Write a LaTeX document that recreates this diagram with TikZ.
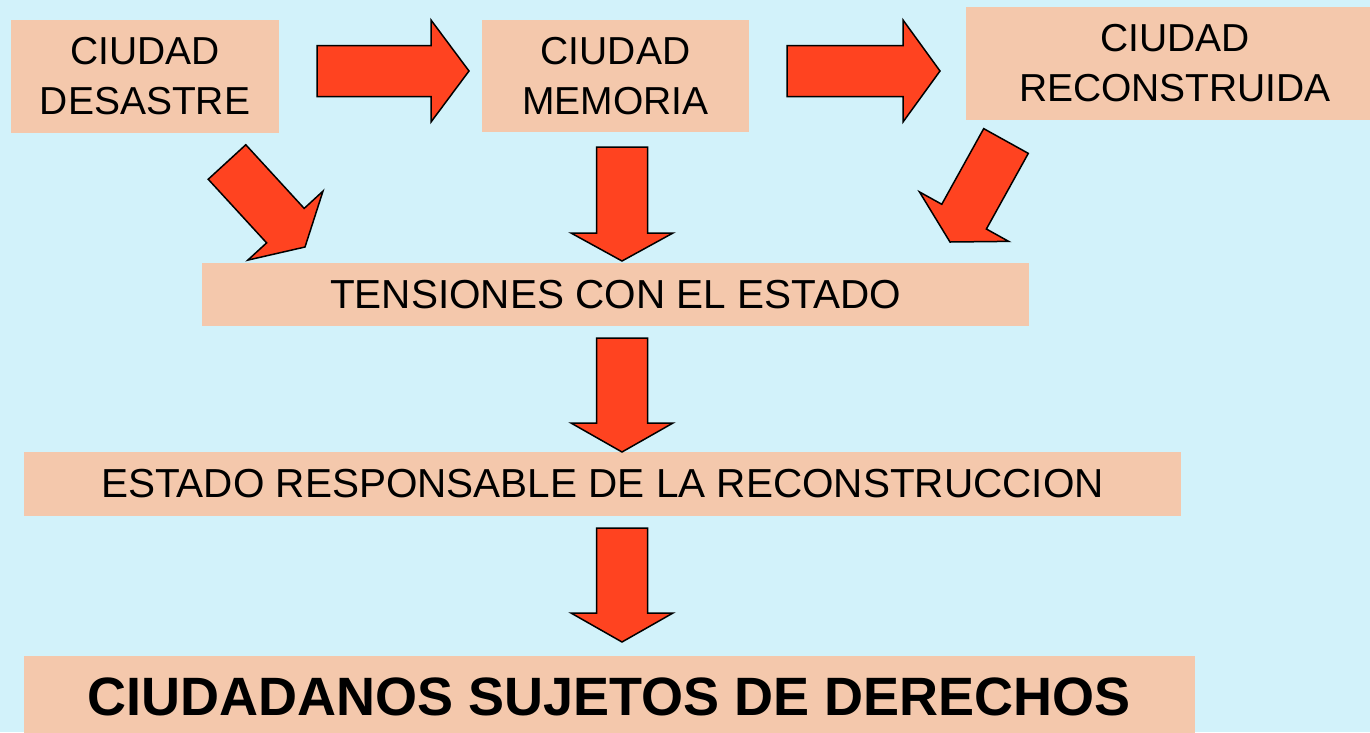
\documentclass[tikz,border=0pt]{standalone}
\usepackage{fontspec}
\setmainfont{Liberation Sans}
\usetikzlibrary{calc}
\definecolor{fondo}{RGB}{210,242,250}
\definecolor{salmon}{RGB}{244,200,172}
\definecolor{rojo}{RGB}{255,67,32}
\tikzset{
  caja/.style={fill=salmon, inner sep=0pt, align=center, font=\fontsize{39}{50}\selectfont},
  flechabloque/.style={fill=rojo, draw=black, line width=1.5pt},
}
\newcommand{\flecha}[3]{%
  \coordinate (base) at ($(#2)!#3pt!(#1)$);
  \draw[flechabloque] ($(#1)!25.5pt!90:(#2)$) -- ($(base)!25.5pt!90:(#2)$)
    -- ($(base)!51pt!90:(#2)$) -- (#2) -- ($(base)!51pt!-90:(#2)$)
    -- ($(base)!25.5pt!-90:(#2)$) -- ($(#1)!25.5pt!-90:(#2)$) -- cycle;
}

\begin{document}
\begin{tikzpicture}[x=1pt,y=-1pt]
\fill[fondo] (0,0) rectangle (1370,732);
\clip (0,0) rectangle (1370,732);

\node[caja, minimum width=268pt, minimum height=113pt] (desastre) at (145,76.5) {CIUDAD\\DESASTRE};
\node[caja, minimum width=267pt, minimum height=112pt] (memoria) at (615.5,76) {CIUDAD\\MEMORIA};
\node[caja, minimum width=418pt, minimum height=113pt] (reconstruida) at (1175,63.5) {CIUDAD\\RECONSTRUIDA};
\node[caja, minimum width=827pt, minimum height=63pt, font=\fontsize{40.5}{50}\selectfont] (tensiones) at (615.5,294.5) {TENSIONES CON EL ESTADO};
\node[caja, minimum width=1157pt, minimum height=64pt, font=\fontsize{40.5}{50}\selectfont] (estado) at (602.5,484) {ESTADO RESPONSABLE DE LA RECONSTRUCCION};
\node[caja, minimum width=1171pt, minimum height=82pt, font=\fontsize{54}{60}\selectfont\bfseries] (ciudadanos) at (609.5,697) {CIUDADANOS SUJETOS DE DERECHOS};

\coordinate (a1i) at (317,71);
\coordinate (a1f) at (469,71);
\coordinate (a2i) at (787,71);
\coordinate (a2f) at (940,71);
\coordinate (b1i) at (622,147);
\coordinate (b1f) at (622,261);
\coordinate (b2i) at (622,338);
\coordinate (b2f) at (622,452);
\coordinate (b3i) at (622,528);
\coordinate (b3f) at (622,642);
\coordinate (c1i) at (227,162);
\coordinate (c1f) at (305,247);
\coordinate (c2i) at (1006,141);
\coordinate (c2f) at (950,242);

\flecha{a1i}{a1f}{38}
\flecha{a2i}{a2f}{37}
\flecha{b1i}{b1f}{28}
\flecha{b2i}{b2f}{29}
\flecha{b3i}{b3f}{29}
\flecha{c1i}{c1f}{29}
\flecha{c2i}{c2f}{29}
\end{tikzpicture}
\end{document}
